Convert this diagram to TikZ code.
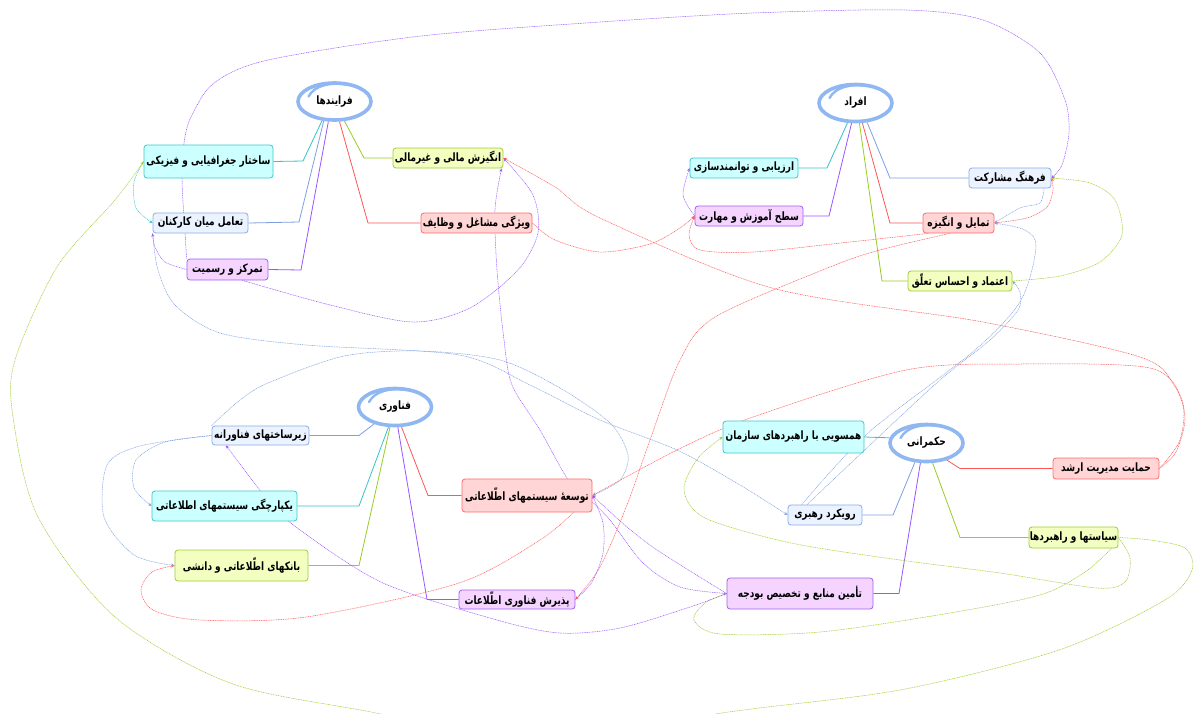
\documentclass[tikz,border=0pt]{standalone}
\usepackage{fontspec}
\usetikzlibrary{arrows.meta,calc,shapes.geometric}
\TeXXeTstate=1
\newfontfamily\arabicfont[Script=Arabic,FakeStretch=0.78]{DejaVu Sans}
\pgfdeclarelayer{bg}
\pgfsetlayers{bg,main}
\definecolor{cyanF}{HTML}{CCFFFF}\definecolor{cyanD}{HTML}{40C8C8}
\definecolor{blueF}{HTML}{EAF3FF}\definecolor{blueD}{HTML}{8AAEE6}
\definecolor{purpF}{HTML}{F5D5FF}\definecolor{purpD}{HTML}{A060F0}
\definecolor{grnF}{HTML}{F2FFC0}\definecolor{grnD}{HTML}{A0CC30}
\definecolor{redF}{HTML}{FFD5D5}\definecolor{redD}{HTML}{FF6B6B}
\definecolor{cyanL}{HTML}{33C4C4}\definecolor{blueL}{HTML}{7FA0E0}
\definecolor{purpL}{HTML}{9955FF}\definecolor{grnL}{HTML}{99CC22}
\definecolor{redL}{HTML}{FF5555}\definecolor{ringB}{HTML}{8FB7F2}
\tikzset{
  box/.style={rectangle, rounded corners=3pt, line width=0.8pt, inner sep=0pt,
    font=\arabicfont\bfseries\fontsize{11.5}{13}\selectfont, align=center},
  cyb/.style={box, draw=cyanD, fill=cyanF},
  blb/.style={box, draw=blueD, fill=blueF},
  pub/.style={box, draw=purpD, fill=purpF},
  grb/.style={box, draw=grnD, fill=grnF},
  rdb/.style={box, draw=redD, fill=redF},
  hub/.style={ellipse, draw=ringB, line width=3.6pt, fill=white, minimum width=73pt,
    minimum height=37pt, inner sep=0pt, font=\arabicfont\bfseries\fontsize{11.5}{13}\selectfont},
  ringline/.style={draw=ringB, line width=2.4pt, line cap=round},
  br/.style={line width=0.8pt},
  lk/.style={line width=0.5pt, dash pattern=on 1pt off 0.7pt,
    -{Stealth[length=3.5pt,width=3pt]}},
}
\newcommand\swirlat[1]{\draw[ringline] ($(#1.center)+(12,-17)$) .. controls ($(#1.center)+(-5,-19.5)$) and ($(#1.center)+(-20,-16)$) .. ($(#1.center)+(-26,-5)$);}
\begin{document}
\begin{tikzpicture}[x=1pt,y=-1pt]
\useasboundingbox (0,0) rectangle (1195,713);
% hubs
\node[hub] (p) at (334.5,101.5) {\beginR فرایندها\endR};
\node[hub] (a) at (855.5,103) {\beginR افراد\endR};
\node[hub] (f) at (395,407) {\beginR فناوری\endR};
\node[hub] (h) at (926.5,443) {\beginR حکمرانی\endR};
\swirlat{p}\swirlat{a}\swirlat{f}\swirlat{h}
% processes
\node[cyb, minimum width=129pt, minimum height=33pt] (p1) at (208.5,161.5) {\beginR ساختار جغرافیایی و فیزیکی\endR};
\node[blb, minimum width=95pt, minimum height=20pt] (p2) at (200.5,223) {\beginR تعامل میان کارکنان\endR};
\node[pub, minimum width=81pt, minimum height=21pt] (p3) at (227.5,269.5) {\beginR تمرکز و رسمیت\endR};
\node[grb, minimum width=110pt, minimum height=20pt] (p4) at (448,158) {\beginR انگیزش مالی و غیرمالی\endR};
\node[rdb, minimum width=111pt, minimum height=20pt] (p5) at (476.5,223) {\beginR ویژگی مشاغل و وظایف\endR};
% individuals
\node[cyb, minimum width=108pt, minimum height=20pt] (a1) at (744,168) {\beginR ارزیابی و توانمندسازی\endR};
\node[pub, minimum width=108pt, minimum height=20pt] (a2) at (749,216) {\beginR سطح آموزش و مهارت\endR};
\node[blb, minimum width=82pt, minimum height=20pt] (a3) at (1010,178) {\beginR فرهنگ مشارکت\endR};
\node[rdb, minimum width=71pt, minimum height=20pt] (a4) at (958.5,223) {\beginR تمایل و انگیزه\endR};
\node[grb, minimum width=104pt, minimum height=20pt] (a5) at (960,281) {\beginR اعتماد و احساس تعلّق\endR};
% technology
\node[blb, minimum width=97pt, minimum height=19pt] (f1) at (260.5,435.5) {\beginR زیرساختهای فناورانه\endR};
\node[cyb, minimum width=145pt, minimum height=30pt] (f2) at (224.5,506) {\beginR یکپارچگی سیستمهای اطلاعاتی\endR};
\node[grb, minimum width=133pt, minimum height=31pt] (f3) at (241.5,565.5) {\beginR بانکهای اطّلاعاتی و دانشی\endR};
\node[rdb, minimum width=130pt, minimum height=33pt] (f4) at (527,495.5) {\beginR توسعهٔ سیستمهای اطّلاعاتی\endR};
\node[pub, minimum width=116pt, minimum height=19pt] (f5) at (517,599.5) {\beginR پذیرش فناوری اطّلاعات\endR};
% governance
\node[cyb, minimum width=141pt, minimum height=32pt] (h1) at (793.5,437) {\beginR همسویی با راهبردهای سازمان\endR};
\node[blb, minimum width=74pt, minimum height=20pt] (h2) at (825,515) {\beginR رویکرد رهبری\endR};
\node[pub, minimum width=146pt, minimum height=31pt] (h3) at (800,593.5) {\beginR تأمین منابع و تخصیص بودجه\endR};
\node[rdb, minimum width=106pt, minimum height=21pt] (h4) at (1106,468.5) {\beginR حمایت مدیریت ارشد\endR};
\node[grb, minimum width=89pt, minimum height=21pt] (h5) at (1073.5,537.5) {\beginR سیاستها و راهبردها\endR};

\begin{pgfonlayer}{bg}
\fill[white] (0,0) rectangle (1195,713);
\begin{scope}
\clip (0,0) rectangle (1195,713);
% branches
\draw[br, cyanL] (p.-123) -- (303,161) -- (p1.east);
\draw[br, blueL] (p.-119) -- (299,222) -- (p2.east);
\draw[br, purpL] (p.-107) -- (301,270) -- (p3.east);
\draw[br, grnL] (p.-63) -- (364,158) -- (p4.west);
\draw[br, redL] (p.-76) -- (368,223) -- (p5.west);
\draw[br, cyanL] (a.-112) -- (827,168) -- (a1.east);
\draw[br, purpL] (a.-101) -- (829,216) -- (a2.east);
\draw[br, blueL] (a.-59) -- (890,178) -- (a3.west);
\draw[br, redL] (a.-71) -- (890,223) -- (a4.west);
\draw[br, grnL] (a.-79) -- (882,281) -- (a5.west);
\draw[br, blueL] (f.-141) -- (359,435.5) -- (f1.east);
\draw[br, cyanL] (f.-108) -- (359,506) -- (f2.east);
\draw[br, grnL] (f.-104) -- (359,565.5) -- (f3.east);
\draw[br, redL] (f.-72) -- (428,495.5) -- (f4.west);
\draw[br, purpL] (f.-82) -- (427,599.5) -- (f5.west);
\draw[br, cyanL] (h.172) -- (h1.east);
\draw[br, blueL] (h.-121) -- (893,515) -- (h2.east);
\draw[br, purpL] (h.-107) -- (899,593.5) -- (h3.east);
\draw[br, redL] (h.-40) -- (960,468.5) -- (h4.west);
\draw[br, grnL] (h.-73) -- (960,537.5) -- (h5.west);
% cross links
\draw[lk, cyanL] plot[smooth] coordinates {(p1.west) (134,182) (136,208) (p2.west)};
\draw[lk, grnL] plot[smooth] coordinates {(h5.east) (1150,540) (1185,548) (1192,570) (1165,600) (1059,650) (900,690) (722,713) (545,745) (371,712) (230,683) (115,617) (38,517) (13,417) (15,360) (57,267) (115,200) (p1.west)};
\draw[lk, grnL] plot[smooth] coordinates {(h5.east) (1130,558) (1125,582) (1097,588) (1000,573) (900,560) (791,543) (705,518) (684,490) (698,458) (h1.west)};
\draw[lk, grnL] plot[smooth] coordinates {(h5.-16) (1085,572) (1040,595) (944,614) (820,632) (720,634) (694,620) (705,603) (h3.west)};
\draw[lk, grnL] plot[smooth] coordinates {(a5.east) (1060,276) (1100,262) (1122,235) (1115,200) (1090,183) (a3.east)};
\draw[lk, purpL] plot[smooth] coordinates {(p3.north west) (185,233) (182,180) (184,143) (191,117) (214,83) (268,60) (421,36) (600,22) (753,13) (906,10) (983,20) (1040,53) (1065,100) (1069,133) (1062,165) (a3.east)};
\draw[lk, purpL] plot[smooth] coordinates {(p3.west) (165,262) (155,247) (p2.south west)};
\draw[lk, purpL] plot[smooth] coordinates {(p3.-36) (330,305) (413,322) (470,308) (518,270) (538,233) (533,195) (p4.east)};
\draw[lk, purpL] plot[smooth] coordinates {(h3.west) (680,587) (643,563) (610,520) (585,495) (567,478) (540,430) (512,385) (504,340) (497,270) (495,210) (p4.-11)};
\draw[lk, purpL] plot[smooth] coordinates {(h3.west) (660,552) (627,527) (f4.east)};
\draw[lk, purpL] plot[smooth] coordinates {(h3.west) (690,607) (620,628) (560,633) (497,620) (383,583) (300,530) (268,500) (f1.-164)};
\draw[lk, purpL] plot[smooth] coordinates {(f5.east) (592,582) (603,553) (603,523) (f4.east)};
\draw[lk, purpL] plot[smooth] coordinates {(a2.west) (683,195) (a1.west)};
\draw[lk, redL] plot[smooth] coordinates {(h4.east) (1176,452) (1185,418) (1174,385) (1140,357) (983,322) (772,288) (600,218) (555,187) (p4.east)};
\draw[lk, redL] plot[smooth] coordinates {(h4.east) (1180,440) (1182,400) (1150,368) (1021,364) (906,370) (753,417) (677,450) (f4.east)};
\draw[lk, redL] plot[smooth] coordinates {(a4.-130) (880,250) (830,267) (715,317) (680,360) (650,440) (627,505) (600,567) (f5.east)};
\draw[lk, redL] plot[smooth] coordinates {(a4.-161) (850,242) (753,252) (700,250) (689,235) (a2.west)};
\draw[lk, redL] plot[smooth] coordinates {(p5.east) (555,240) (600,252) (650,244) (680,228) (a2.west)};
\draw[lk, redL] plot[smooth] coordinates {(a4.east) (1027,218) (1047,207) (1053,190) (a3.east)};
\draw[lk, redL] plot[smooth] coordinates {(f4.-20) (540,540) (459,583) (306,617) (200,620) (153,610) (141,590) (152,572) (f3.west)};
\draw[lk, blueL] plot[smooth] coordinates {(a3.-17) (1040,203) (1020,208) (a4.east)};
\draw[lk, blueL] plot[smooth] coordinates {(h2.156) (868,433) (975,350) (1021,300) (1036,247) (1025,230) (a4.east)};
\draw[lk, blueL] plot[smooth] coordinates {(h2.150) (870,445) (940,380) (990,340) (1018,310) (1020,292) (a5.east)};
\draw[lk, blueL] plot[smooth] coordinates {(p2.south west) (158,270) (175,305) (220,333) (306,345) (459,355) (530,385) (600,420) (677,450) (740,485) (h2.west)};
\draw[lk, blueL] plot[smooth] coordinates {(f1.north west) (240,400) (268,383) (344,356) (421,351) (500,360) (560,388) (610,423) (628,455) (620,480) (f4.east)};
\draw[lk, blueL] plot[smooth] coordinates {(f1.west) (165,442) (136,460) (134,488) (f2.west)};
\draw[lk, blueL] plot[smooth] coordinates {(f1.west) (140,446) (107,465) (104,517) (134,555) (f3.west)};
\end{scope}
\end{pgfonlayer}
\end{tikzpicture}
\end{document}
